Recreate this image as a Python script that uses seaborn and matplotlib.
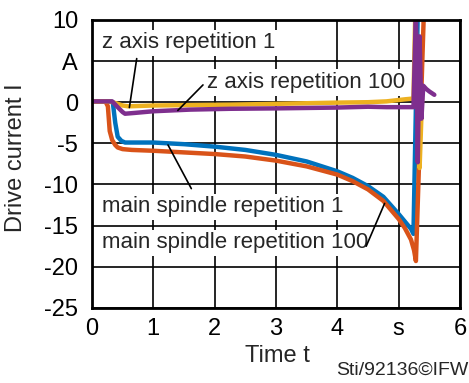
import pandas as pd
import matplotlib
matplotlib.use("Agg")
import matplotlib.pyplot as plt
import seaborn as sns

# ---------------------------------------------------------
# Daten
# ---------------------------------------------------------
t_spindle_1 = [0, 0.3, 0.34, 0.38, 0.42, 0.48, 0.54, 0.7, 1.0, 1.5, 2.0, 2.5, 3.0, 3.5,
               4.0, 4.25, 4.5, 4.75, 5.0, 5.1, 5.2, 5.24, 5.31]
i_spindle_1 = [0.1, 0.1, 0.0, -2.5, -4.2, -4.7, -4.9, -4.9, -4.9, -5.1, -5.4, -5.8, -6.4, -7.2,
               -8.4, -9.2, -10.2, -11.5, -13.6, -14.5, -15.4, -16.0, 11]

t_spindle_100 = [0, 0.22, 0.26, 0.29, 0.33, 0.38, 0.42, 0.5, 0.65, 1.0, 1.5, 2.0, 2.5, 3.0, 3.5,
                 4.0, 4.25, 4.5, 4.75, 5.0, 5.1, 5.2, 5.25, 5.28, 5.41]
i_spindle_100 = [0.1, 0.1, -0.5, -3.5, -4.6, -5.2, -5.5, -5.7, -5.8, -5.9, -6.1, -6.3, -6.6, -7.1, -7.8,
                 -8.8, -9.6, -10.6, -12.0, -14.2, -15.3, -16.7, -18.0, -19.3, 11]

t_z_1 = [0, 0.3, 0.42, 0.5, 0.59, 0.8, 1.0, 1.6, 2.25, 3.0, 4.0, 4.5, 4.8, 5.1, 5.24,
         5.27, 5.34, 5.38]
i_z_1 = [0.1, 0.1, -0.2, -0.4, -0.5, -0.45, -0.4, -0.35, -0.3, -0.2, -0.05, 0.0, 0.1, 0.35, 0.45,
         11, -8, 0.5]

t_z_100 = [0, 0.33, 0.42, 0.5, 0.54, 0.7, 1.0, 1.6, 2.25, 3.0, 4.0, 4.5, 4.8, 5.1, 5.24,
           5.28, 5.31, 5.34, 5.37, 5.4, 5.45, 5.5, 5.58]
i_z_100 = [0.1, 0.1, -0.6, -1.2, -1.4, -1.3, -1.1, -0.9, -0.8, -0.75, -0.65, -0.55, -0.6, -0.6, -0.6,
           11, -7.3, 8, -2, 2.0, 1.6, 1.3, 0.9]

series_names = ["main spindle repetition 1", "main spindle repetition 100",
                "z axis repetition 1", "z axis repetition 100"]
series_colors = ["#0072BD", "#D95319", "#EDB120", "#7E2F8E"]

x_ticks = [0, 1, 2, 3, 4, 5, 6]
x_ticklabels = ["0", "1", "2", "3", "4", "s", "6"]
y_ticks = [-25, -20, -15, -10, -5, 0, 5, 10]
y_ticklabels = ["-25", "-20", "-15", "-10", "-5", "0", "A", "10"]

# Beschriftungen: Textposition und Linie (Start -> Kurve)
label_texts = ["z axis repetition 1", "z axis repetition 100",
               "main spindle repetition 1", "main spindle repetition 100"]
label_pos = [(0.16, 7.2), (1.87, 2.4), (0.16, -12.7), (0.16, -17.1)]
leader_start = [(0.73, 5.3), (1.81, 2.1), (1.24, -5.2), (4.77, -12.3)]
leader_end = [(0.61, -0.65), (1.40, -1.0), (1.62, -10.5), (4.47, -17.5)]

# ---------------------------------------------------------
# Tabelle bauen
# ---------------------------------------------------------
frames = []
for name, t, i in zip(series_names,
                      [t_spindle_1, t_spindle_100, t_z_1, t_z_100],
                      [i_spindle_1, i_spindle_100, i_z_1, i_z_100]):
    frames.append(pd.DataFrame({"t": t, "I": i, "series": name}))
df = pd.concat(frames, ignore_index=True)

# ---------------------------------------------------------
# Plot
# ---------------------------------------------------------
sns.set_style("white")
plt.rcParams["font.family"] = ["Liberation Sans", "DejaVu Sans"]
plt.rcParams["axes.axisbelow"] = True

fig = plt.figure(figsize=(4.69, 3.83), dpi=100)
ax = fig.add_axes([0.196, 0.196, 0.785, 0.752])

sns.lineplot(data=df, x="t", y="I", hue="series", hue_order=series_names,
             palette=series_colors, linewidth=3.2, legend=False, sort=False,
             estimator=None, ax=ax)

ax.set_xlim(0, 6)
ax.set_ylim(-25, 10)
ax.set_xticks(x_ticks)
ax.set_xticklabels(x_ticklabels)
ax.set_yticks(y_ticks)
ax.set_yticklabels(y_ticklabels)
ax.tick_params(axis="both", length=0, labelsize=17, colors="black")
ax.tick_params(axis="x", pad=7)
ax.tick_params(axis="y", pad=10)
ax.grid(True, color="black", linewidth=1.2)
for sp in ax.spines.values():
    sp.set_color("black")
    sp.set_linewidth(2)

ax.set_xlabel("Time t", fontsize=17)
ax.set_ylabel("Drive current I", fontsize=17)
ax.xaxis.set_label_coords(0.503, -0.13)
ax.yaxis.set_label_coords(-0.177, 0.52)

for txt, pos in zip(label_texts, label_pos):
    ax.text(pos[0], pos[1], txt, fontsize=16, ha="left", va="center", zorder=5,
            bbox=dict(boxstyle="square,pad=0.12", facecolor="white", edgecolor="none"))
for s, e in zip(leader_start, leader_end):
    ax.annotate("", xy=e, xytext=s, zorder=6,
                arrowprops=dict(arrowstyle="-", color="black", lw=1.2,
                                shrinkA=0, shrinkB=0))

fig.text(0.998, 0.034, "Sti/92136\u00a9IFW", fontsize=14, ha="right", va="center")

fig.savefig("out.png", dpi=100)
